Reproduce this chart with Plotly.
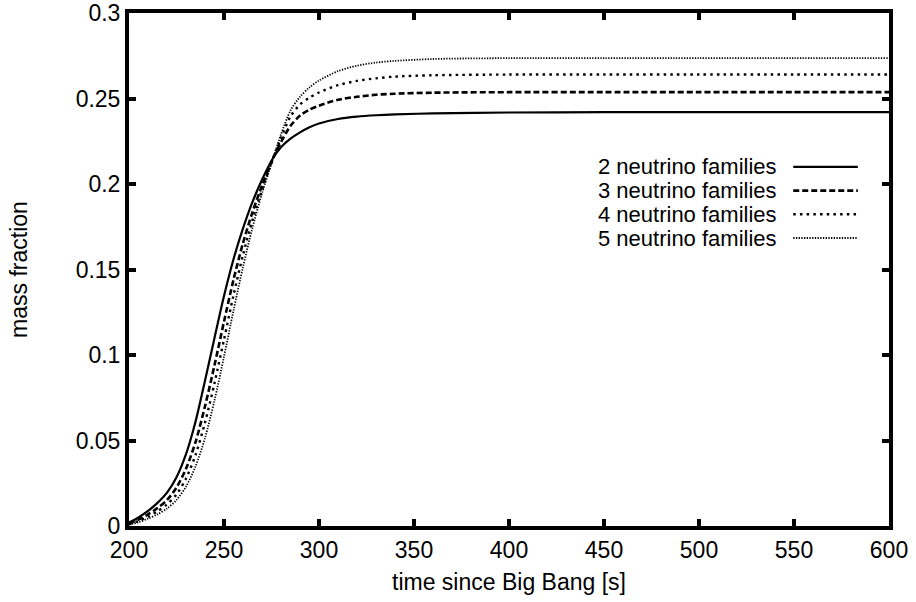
import plotly.graph_objects as go

# Helium-4 mass fraction during Big Bang nucleosynthesis
time_s = [200, 205, 210, 215, 220, 225, 230, 235, 240, 245, 250, 255, 260, 265, 270,
          276, 280, 285, 290, 295, 300, 310, 320, 330, 340, 360, 400, 450, 500, 550, 600]

y_2fam = [0.0020, 0.0050, 0.0088, 0.0135, 0.0195, 0.0285, 0.0420, 0.0610, 0.0850, 0.1100,
          0.1345, 0.1560, 0.1740, 0.1895, 0.2025, 0.2155, 0.2215, 0.2265, 0.2302, 0.2332,
          0.2354, 0.2380, 0.2394, 0.2402, 0.2407, 0.2413, 0.2418, 0.2420, 0.2420, 0.2420, 0.2420]

y_3fam = [0.0015, 0.0038, 0.0068, 0.0105, 0.0152, 0.0225, 0.0335, 0.0490, 0.0700, 0.0940,
          0.1195, 0.1440, 0.1655, 0.1835, 0.1990, 0.2155, 0.2245, 0.2340, 0.2400, 0.2435,
          0.2458, 0.2493, 0.2510, 0.2522, 0.2528, 0.2534, 0.2537, 0.2537, 0.2537, 0.2537, 0.2537]

y_4fam = [0.0011, 0.0030, 0.0055, 0.0086, 0.0126, 0.0185, 0.0278, 0.0415, 0.0605, 0.0835,
          0.1090, 0.1350, 0.1585, 0.1790, 0.1965, 0.2155, 0.2270, 0.2395, 0.2465, 0.2505,
          0.2535, 0.2578, 0.2603, 0.2618, 0.2628, 0.2636, 0.2640, 0.2640, 0.2640, 0.2640, 0.2640]

y_5fam = [0.0008, 0.0022, 0.0043, 0.0068, 0.0102, 0.0152, 0.0230, 0.0348, 0.0515, 0.0735,
          0.0990, 0.1260, 0.1515, 0.1745, 0.1945, 0.2155, 0.2290, 0.2430, 0.2510, 0.2565,
          0.2605, 0.2660, 0.2692, 0.2710, 0.2720, 0.2731, 0.2736, 0.2736, 0.2736, 0.2736, 0.2736]

series_names = ["2 neutrino families", "3 neutrino families",
                "4 neutrino families", "5 neutrino families"]

x_ticks = [200, 250, 300, 350, 400, 450, 500, 550, 600]
y_ticks = [0, 0.05, 0.1, 0.15, 0.2, 0.25, 0.3]
y_tick_text = ["0", "0.05", "0.1", "0.15", "0.2", "0.25", "0.3"]

FONT = "Liberation Sans, Arial, Helvetica, sans-serif"
FS = 23
KEY_FS = 22

styles = [
    dict(color="black", width=2.2, dash="solid"),
    dict(color="black", width=2.6, dash="6px,3px"),
    dict(color="black", width=2.4, dash="2.5px,4.2px"),
    dict(color="black", width=1.8, dash="1.3px,1.4px"),
]

fig = go.Figure()
for name, ys, st in zip(series_names, [y_2fam, y_3fam, y_4fam, y_5fam], styles):
    fig.add_trace(go.Scatter(
        x=time_s, y=ys, name=name, mode="lines",
        line=dict(color=st["color"], width=st["width"], dash=st["dash"],
                  shape="spline", smoothing=0.8),
        showlegend=False,
    ))

# Key in the gnuplot style: label on the left, line sample on the right
KEY_TEXT_X = 0.854
KEY_LINE_X0 = 0.874
KEY_LINE_X1 = 0.959
KEY_TOP_Y = 0.700
KEY_STEP = 0.0462
for i, (name, st) in enumerate(zip(series_names, styles)):
    yk = KEY_TOP_Y - i * KEY_STEP
    fig.add_annotation(x=KEY_TEXT_X, y=yk, xref="paper", yref="paper",
                       text=name, showarrow=False, xanchor="right", yanchor="middle",
                       borderpad=0,
                       font=dict(family=FONT, size=KEY_FS, color="black"))
    fig.add_shape(type="line", xref="paper", yref="paper",
                  x0=KEY_LINE_X0, x1=KEY_LINE_X1, y0=yk, y1=yk,
                  line=dict(color=st["color"], width=st["width"], dash=st["dash"]))

axis_common = dict(
    showline=True, linecolor="black", linewidth=4, mirror="allticks",
    ticks="inside", ticklen=7, tickwidth=4, tickcolor="black",
    showgrid=False, zeroline=False,
    tickfont=dict(family=FONT, size=FS, color="black"),
)

fig.update_xaxes(range=[200, 600], tickvals=x_ticks,
                 title=dict(text="time since Big Bang [s]", standoff=13,
                            font=dict(family=FONT, size=FS, color="black")),
                 **axis_common)
fig.update_yaxes(range=[0, 0.3], tickvals=y_ticks, ticktext=y_tick_text,
                 title=dict(text="mass fraction", standoff=43,
                            font=dict(family=FONT, size=FS, color="black")),
                 **axis_common)

fig.update_layout(
    width=916, height=602,
    margin=dict(l=129, r=27, t=13, b=76, autoexpand=False),
    plot_bgcolor="white", paper_bgcolor="white",
    font=dict(family=FONT, size=FS, color="black"),
)

fig.write_html("out.html")
